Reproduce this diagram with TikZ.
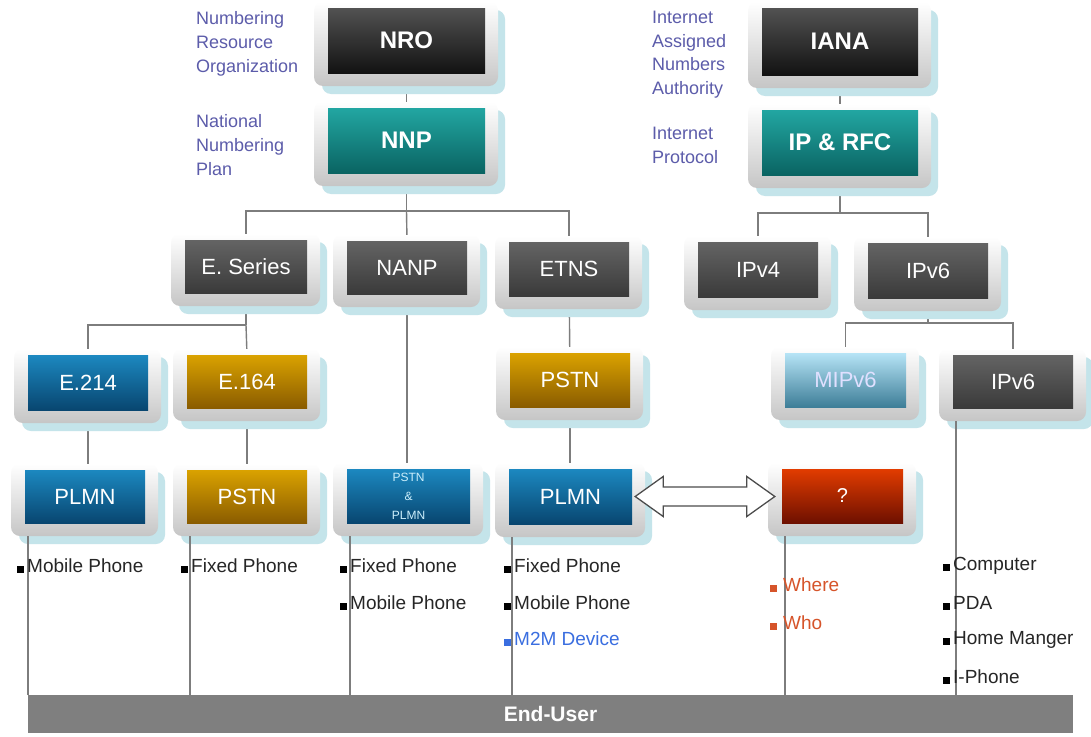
\documentclass[tikz,border=0pt]{standalone}
\usepackage{fontspec}
\setmainfont{Liberation Sans}
\usetikzlibrary{calc}
\pgfdeclarelayer{bg}
\pgfsetlayers{bg,main}
\definecolor{lblblue}{RGB}{92,92,170}
\definecolor{panelshadow}{RGB}{196,228,234}
\definecolor{linegray}{RGB}{125,125,125}
\definecolor{blkT}{RGB}{82,82,82}\definecolor{blkB}{RGB}{18,18,18}
\definecolor{tealT}{RGB}{34,166,162}\definecolor{tealB}{RGB}{10,100,98}
\definecolor{gryT}{RGB}{100,100,100}\definecolor{gryB}{RGB}{58,58,58}
\definecolor{bluT}{RGB}{28,136,192}\definecolor{bluB}{RGB}{8,70,112}
\definecolor{goldT}{RGB}{218,162,0}\definecolor{goldB}{RGB}{138,92,0}
\definecolor{ltbT}{RGB}{182,228,246}\definecolor{ltbB}{RGB}{62,126,152}
\definecolor{redT}{RGB}{226,60,0}\definecolor{redB}{RGB}{110,16,0}
\definecolor{orng}{RGB}{214,84,42}
\definecolor{m2m}{RGB}{58,110,224}
\definecolor{barg}{RGB}{127,127,127}
\newcommand\ubox[7]{%
  \fill[panelshadow, rounded corners=9pt] ({#2-6},{#3+2}) rectangle ({#4+20},{#5+21});
  \shade[top color=white, bottom color=gray!45, rounded corners=9pt] ({#2-14},{#3-6}) rectangle ({#4+13},{#5+13});
  \node[boxbase, #6, minimum width={#4-#2}, minimum height={#5-#3}] (#1) at ({(#2+#4)/2},{(#3+#5)/2}) {#7};
}
\newcommand\sqb[1]{\textcolor{#1}{\rule{7pt}{7pt}}\hspace{3pt}}
\begin{document}
\begin{tikzpicture}[x=1pt,y=-1pt,
  boxbase/.style={inner sep=0pt, draw=none, text=white, font=\fontsize{22}{24}\selectfont},
  bxblack/.style={top color=blkT, bottom color=blkB, font=\bfseries\fontsize{24}{26}\selectfont},
  bxteal/.style={top color=tealT, bottom color=tealB, font=\bfseries\fontsize{24}{26}\selectfont},
  bxgray/.style={top color=gryT, bottom color=gryB},
  bxblue/.style={top color=bluT, bottom color=bluB},
  bxgold/.style={top color=goldT, bottom color=goldB},
  bxltb/.style={top color=ltbT, bottom color=ltbB, text=white!88!blue},
  bxred/.style={top color=redT, bottom color=redB, font=\fontsize{20}{22}\selectfont},
  lbl/.style={text=lblblue, align=left, inner sep=0pt, anchor=north west, font=\fontsize{18}{24}\selectfont},
  item/.style={anchor=west, inner sep=0pt, text=black!85, font=\fontsize{19}{21}\selectfont},
  conn/.style={draw=linegray, line width=1.4pt}
]
\begin{pgfonlayer}{bg}
\fill[white] (0,0) rectangle (1091,736);
\end{pgfonlayer}
\useasboundingbox (0,0) rectangle (1091,736);

% side labels
\node[lbl] (lnro) at (196,11) {Numbering\\Resource\\Organization};
\node[lbl] (lnnp) at (196,114) {National\\Numbering\\Plan};
\node[lbl, font=\fontsize{18}{23.5}\selectfont] (liana) at (652,11) {Internet\\Assigned\\Numbers\\Authority};
\node[lbl] (lip) at (652,127) {Internet\\Protocol};

% boxes
\ubox{nro}{328}{8}{485}{73}{bxblack}{NRO}
\ubox{nnp}{328}{108}{485}{173}{bxteal}{NNP}
\ubox{iana}{762}{8}{918}{75}{bxblack}{IANA}
\ubox{iprfc}{762}{110}{918}{175}{bxteal}{IP \& RFC}

\ubox{eseries}{185}{240}{307}{293}{bxgray}{E. Series}
\ubox{nanp}{347}{241}{467}{294}{bxgray}{NANP}
\ubox{etns}{509}{242}{629}{296}{bxgray}{ETNS}
\ubox{ipvfour}{698}{242}{818}{297}{bxgray}{IPv4}
\ubox{ipvsixa}{868}{243}{988}{298}{bxgray}{IPv6}

\ubox{ethree}{28}{355}{148}{410}{bxblue}{E.214}
\ubox{eone}{187}{355}{307}{408}{bxgold}{E.164}
\ubox{pstna}{510}{353}{630}{407}{bxgold}{PSTN}
\ubox{mipv}{785}{353}{906}{407}{bxltb}{MIPv6}
\ubox{ipvsixb}{953}{355}{1073}{408}{bxgray}{IPv6}

\ubox{plmna}{25}{470}{145}{523}{bxblue}{PLMN}
\ubox{pstnb}{187}{470}{307}{523}{bxgold}{PSTN}
\ubox{pp}{347}{469}{470}{523}{bxblue}{\parbox{100pt}{\centering\fontsize{12}{19}\selectfont\color{white!80!cyan}PSTN\\\&\\PLMN}}
\ubox{plmnb}{509}{469}{632}{524}{bxblue}{PLMN}
\ubox{q}{782}{469}{903}{523}{bxred}{?}

% end-user bar
\node[fill=barg, minimum width=1045pt, minimum height=38pt, inner sep=0pt, text=white,
      font=\bfseries\fontsize{21}{23}\selectfont] (eu) at (550.5,714) {End-User};

% junction coordinates
\coordinate (jn) at (406.5,211);
\coordinate (je) at (246,325);
\coordinate (ji) at (840,213);
\coordinate (jv) at (928,323);

% connectors on background layer (behind the panels)
\begin{pgfonlayer}{bg}
\draw[conn] (nro) -- (nnp);
\draw[conn] (iana) -- (iprfc);
\draw[conn] (nnp.south) -- (jn);
\draw[conn] (eseries.north) |- (jn) -| (etns.north);
\draw[conn] (jn) -- (nanp.north);
\draw[conn] (iprfc.south) -- (ji);
\draw[conn] (ipvfour.north) |- (ji) -| (ipvsixa.north);
\draw[conn] (eseries.south) -- (je);
\draw[conn] (je) -- (eone.north);
\draw[conn] (ethree.north) |- (je);
\draw[conn] (etns) -- (pstna);
\draw[conn] (ipvsixa.south) -- (jv);
\draw[conn] (mipv.north) |- (jv) -| (ipvsixb.north);
\draw[conn] (ethree) -- (ethree |- plmna.north);
\draw[conn] (eone) -- (pstnb);
\draw[conn] (nanp.south) -- (nanp.south |- pp.north);
\draw[conn] (pstna) -- (pstna |- plmnb.north);
\end{pgfonlayer}
% drops to end-user bar
\foreach \b in {plmna,pstnb,pp,plmnb,q,ipvsixb}{
  \draw[conn] ([xshift=3pt]\b.south west) ++(0,13) -- ([xshift=3pt]\b.south west |- eu.north);
}

% double arrow
\coordinate (al) at ([xshift=3pt]plmnb.east);
\coordinate (ar) at ([xshift=-7pt]q.west |- al);
\draw[draw=black!70, line width=1.3pt, fill=white, line join=miter]
  (al) -- ($(al)+(28,-20)$) -- ($(al)+(28,-9.5)$) -- ($(ar)+(-28,-9.5)$) -- ($(ar)+(-28,-20)$)
  -- (ar) -- ($(ar)+(-28,20)$) -- ($(ar)+(-28,9.5)$) -- ($(al)+(28,9.5)$) -- ($(al)+(28,20)$) -- cycle;

% lists
\node[item] (a1) at (17,566) {\sqb{black}Mobile Phone};
\node[item] (b1) at (181,566) {\sqb{black}Fixed Phone};
\node[item] (c1) at (340,566) {\sqb{black}Fixed Phone};
\node[item] (c2) at (340,603) {\sqb{black}Mobile Phone};
\node[item] (d1) at (504,566) {\sqb{black}Fixed Phone};
\node[item] (d2) at (504,603) {\sqb{black}Mobile Phone};
\node[item, text=m2m] (d3) at (504,639) {\sqb{m2m}M2M Device};
\node[item, text=orng] (e1) at (770,585) {\sqb{orng}\hspace{3pt}Where};
\node[item, text=orng] (e2) at (770,623) {\sqb{orng}\hspace{3pt}Who};
\node[item] (f1) at (943,566) {\sqb{black}Computer};
\node[item] (f2) at (943,603) {\sqb{black}PDA};
\node[item] (f3) at (943,640) {\sqb{black}Home Manger};
\node[item] (f4) at (943,677) {\sqb{black}I-Phone};
\end{tikzpicture}
\end{document}
